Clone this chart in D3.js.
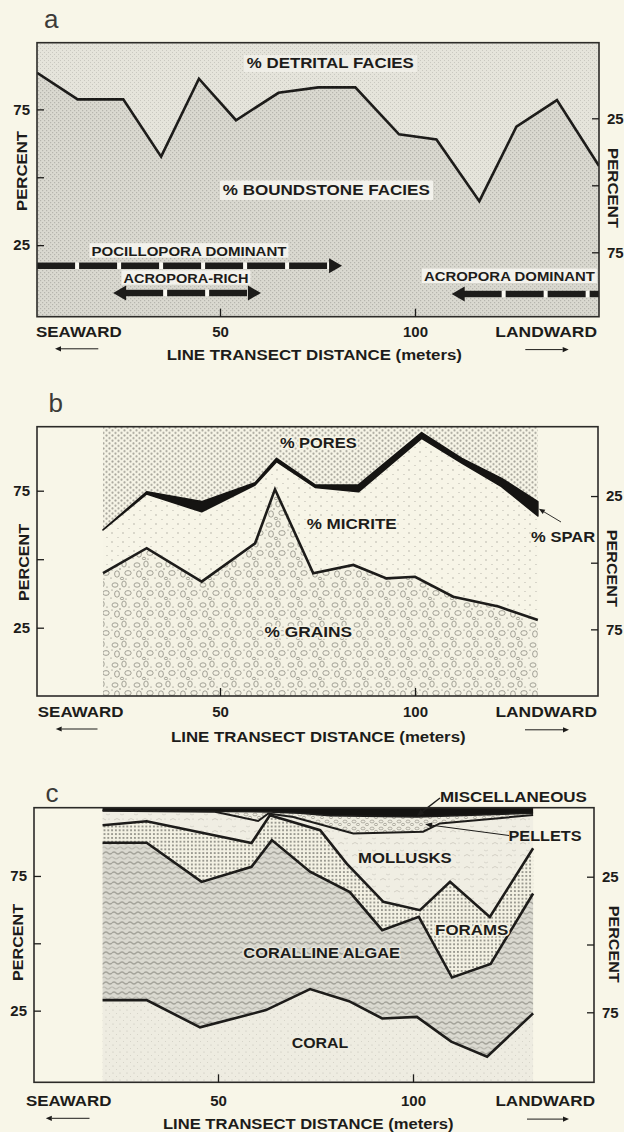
<!DOCTYPE html>
<html><head><meta charset="utf-8">
<script src="https://cdn.jsdelivr.net/npm/d3@7/dist/d3.min.js"></script>
<style>
html,body{margin:0;padding:0;background:#f8f6e8;}
svg{display:block}
text{font-family:"Liberation Sans",Arial,sans-serif;}
</style></head>
<body>
<svg id="fig" width="624" height="1132"></svg>
<script>
// ================= DATA =================
const percentTicks = [25, 50, 75];
const leftTickLabels = ["25", "", "75"];
const rightTickLabels = ["25", "", "75"];
const distanceTicks = [50, 100];

// panel a : % boundstone facies (remainder = % detrital facies)
const aDistance   = [3.1, 13.5, 25.2, 34.9, 44.6, 54.1, 65.0, 75.2, 84.7, 95.9, 105.5, 116.5, 126.0, 136.4, 147.2];
const aBoundstone = [88.5, 78.7, 78.7, 57.6, 86.3, 71.0, 81.1, 83.1, 83.1, 65.8, 63.9, 41.2, 68.6, 78.4, 54.1];
const aZoneNames = ["POCILLOPORA  DOMINANT", "ACROPORA-RICH", "ACROPORA DOMINANT"];
const aZoneFrom  = [3.1, 22.6, 109.4];
const aZoneTo    = [81.3, 60.5, 147.2];
const aZoneHeads = ["end", "both", "start"];

// panel b : cumulative percent boundaries
const bBandDistance  = [20, 31.2, 45.3, 59.0, 64.5, 74.4, 85.5, 101.7, 112.0, 122.2, 131.5];
const bSparTop       = [60.7, 74.6, 71.0, 77.9, 86.8, 77.1, 77.1, 96.2, 86.8, 79.5, 71.0];
const bMicriteTop    = [60.7, 73.8, 67.3, 77.1, 85.6, 76.2, 74.6, 94.1, 85.1, 76.5, 65.8];
const bGrainDistance = [20, 31.2, 45.3, 59.0, 64.1, 73.9, 84.2, 92.7, 100.0, 109.8, 121.4, 131.5];
const bGrainsTop     = [44.9, 54.0, 41.8, 55.8, 75.5, 44.9, 47.9, 43.0, 43.6, 36.3, 32.7, 27.8];

// panel c : cumulative percent boundaries
const cCoralDistance   = [20.4, 31.7, 45.4, 62.3, 73.6, 83.6, 92.1, 101.0, 109.8, 119.0, 130.8];
const cCoralTop        = [28.9, 28.9, 18.8, 25.2, 33.0, 28.5, 22.1, 22.7, 13.5, 7.9, 24.0];
const cAlgaeDistance   = [20.4, 31.7, 45.8, 58.6, 63.8, 73.6, 83.8, 92.1, 101.5, 110.0, 119.9, 130.8];
const cAlgaeTop        = [87.3, 87.3, 72.8, 78.4, 88.3, 76.6, 69.0, 54.9, 59.8, 37.3, 42.3, 68.5];
const cForamDistance   = [20.4, 31.7, 58.6, 63.3, 76.2, 83.0, 92.4, 101.8, 109.5, 119.7, 130.8];
const cForamsTop       = [93.8, 95.3, 87.2, 97.5, 92.0, 79.6, 65.4, 62.3, 72.8, 59.8, 85.3];
const cMolluskDistance = [20.4, 49.2, 60.3, 62.9, 69.3, 84.7, 102.6, 106.9, 130.8];
const cMollusksTop     = [99.2, 98.8, 95.4, 98.2, 96.9, 90.8, 91.4, 94.5, 97.6];
const cPelletDistance  = [20.4, 62.8, 71.0, 78.7, 101.0, 130.8];
const cPelletsTop      = [99.3, 98.8, 98.3, 97.4, 96.9, 98.3];

// ================= LAYOUT =================
const INK = "#1d1c1a";
const layout = {
  a: {left:37, right:599, top:42.7, bottom:316.7, xr:[25,415], yr:[313,41.5], yRr:[51.3,319.3],
      padX:10, labelY:332, arrowY:348.8, titleY:355, seaward:[36,121.7], landward:[495.3,597],
      lArrow:[55,98.3], rArrow:[525.3,568.7], title:[166.7,462], pL:[22,171,80], pR:[613,188,80],
      letter:["a",44,28.3]},
  b: {left:37, right:598, top:426.7, bottom:696, xr:[25,415], yr:[696.2,422.2], yRr:[429.4,696],
      padX:10.4, labelY:711.7, arrowY:729, titleY:736.7, seaward:[37.8,123.4], landward:[495.4,597],
      lArrow:[55.7,97.5], rArrow:[525,569], title:[171,465.6], pL:[24,562.5,77], pR:[612.8,568.3,77],
      letter:["b",48.5,411.7]},
  c: {left:34, right:594, top:807.7, bottom:1082.3, xr:[23,413], yr:[1078,808.6], yRr:[808.9,1080.1],
      padX:13, labelY:1100.7, arrowY:1118.3, titleY:1124.3, seaward:[25.9,111.4], landward:[495.4,595],
      lArrow:[45.8,89.5], rArrow:[527,569], title:[163,453.6], pL:[17.9,942.5,77], pR:[614.8,944.2,77],
      letter:["c",45.5,801.7]}
};

const svg = d3.select("#fig");
const defs = svg.append("defs");

function makePattern(id, w, h, bg, draw){
  const p = defs.append("pattern").attr("id",id).attr("patternUnits","userSpaceOnUse")
    .attr("width",w).attr("height",h);
  p.append("rect").attr("width",w).attr("height",h).attr("fill",bg);
  draw(p);
}
const dot=(p,x,y,r,c)=>p.append("circle").attr("cx",x).attr("cy",y).attr("r",r).attr("fill",c);
const ell=(p,x,y,rx,ry,c,sw)=>p.append("ellipse").attr("cx",x).attr("cy",y).attr("rx",rx).attr("ry",ry)
  .attr("fill","none").attr("stroke",c).attr("stroke-width",sw);
const pth=(p,d,c,sw)=>p.append("path").attr("d",d).attr("fill","none").attr("stroke",c).attr("stroke-width",sw);

makePattern("aDet",4,4,"#e5e4db",p=>{p.append("rect").attr("width",1).attr("height",1).attr("fill","#c9c8c0");
  p.append("rect").attr("x",2).attr("y",2).attr("width",1).attr("height",1).attr("fill","#c9c8c0");});
makePattern("aBnd",4,4,"#dad9d0",p=>{p.append("rect").attr("width",1.2).attr("height",1.2).attr("fill","#b6b5ad");
  p.append("rect").attr("x",2).attr("y",2).attr("width",1.2).attr("height",1.2).attr("fill","#b6b5ad");});
makePattern("pores",6,5.2,"#f6f4e6",p=>{dot(p,1.5,1.3,1.05,"#a7a59b");dot(p,4.5,3.9,1.05,"#a7a59b");});
makePattern("micrite",11,9,"#f7f5e7",p=>{dot(p,2,2,0.7,"#a4a298");dot(p,8,6.5,0.6,"#b2b0a6");});
makePattern("grains",22,20,"#f4f2e4",p=>{
  ell(p,5,5,3,2.2,"#8d8b81",0.8);ell(p,14,4,2.2,3,"#8d8b81",0.8);ell(p,18,13,3.2,2.4,"#8d8b81",0.8);
  ell(p,7,14,2.4,3.2,"#8d8b81",0.8);ell(p,12,18.5,1.6,1.3,"#8d8b81",0.8);
  dot(p,10,9,0.7,"#6f6d66");dot(p,2,10,0.6,"#6f6d66");dot(p,19,7,0.6,"#6f6d66");dot(p,16,19,0.6,"#6f6d66");dot(p,1,18,0.6,"#6f6d66");});
makePattern("coral",7,7,"#eeece1",p=>{dot(p,1,2,0.6,"#c2c0b6");dot(p,4.5,5.5,0.5,"#cfcdc2");});
makePattern("algae",16,10,"#dad9d0",p=>{pth(p,"M0,3 q2,-2 4,0 t4,0 t4,0 t4,0","#a4a39a",1.4);
  pth(p,"M-2,8 q2,-2 4,0 t4,0 t4,0 t4,0 t4,0","#b9b8af",1.1);});
makePattern("forams",3.8,3.8,"#f3f1e3",p=>{dot(p,1.9,1.9,0.85,"#6f6e67");});
makePattern("mollusks",14,12,"#f0eee3",p=>{pth(p,"M2,4 q3,-3 6,0","#cac8bd",0.8);pth(p,"M8,10 q2,2 4,0","#d2d0c5",0.8);dot(p,11,3,0.5,"#bdbbb1");});
makePattern("pellets",9,7,"#efede1",p=>{ell(p,3,2.5,2,1.4,"#96948a",0.7);ell(p,7,5.5,1.6,1.2,"#96948a",0.7);});

// ================= HELPERS =================
function scales(P){
  return {x:d3.scaleLinear().domain([0,100]).range(P.xr),
          y:d3.scaleLinear().domain([0,100]).range(P.yr),
          yR:d3.scaleLinear().domain([0,100]).range(P.yRr)};
}
function clipFor(id,P){
  defs.append("clipPath").attr("id",id).append("rect")
    .attr("x",P.left).attr("y",P.top).attr("width",P.right-P.left).attr("height",P.bottom-P.top);
}
function label(g,cx,cy,str,size,width,opt={}){
  const t=g.append("text").attr("x",cx).attr("y",cy+size*0.36).attr("text-anchor","middle")
    .attr("font-size",size).attr("font-weight",opt.weight||"bold").attr("fill",opt.fill||INK).text(str);
  if(width) t.attr("textLength",width).attr("lengthAdjust","spacingAndGlyphs");
  if(opt.halo) t.attr("stroke",opt.halo).attr("stroke-width",opt.haloW||3).attr("paint-order","stroke").attr("stroke-linejoin","round");
  return t;
}
function arrow(g,x1,y1,x2,y2,w,hl,hw){
  const a=Math.atan2(y2-y1,x2-x1), c=Math.cos(a), s=Math.sin(a);
  const bx=x2-c*hl, by=y2-s*hl;
  g.append("line").attr("x1",x1).attr("y1",y1).attr("x2",bx).attr("y2",by).attr("stroke",INK).attr("stroke-width",w);
  g.append("path").attr("d",`M${x2},${y2}L${bx-s*hw},${by+c*hw}L${bx+s*hw},${by-c*hw}Z`).attr("fill",INK);
}
function pts(xs,ys,S){return xs.map((d,i)=>[S.x(d),S.y(ys[i])]);}
function bandPath(xs1,ys1,xs2,ys2,S){return d3.line()(pts(xs1,ys1,S).concat(pts(xs2,ys2,S).reverse()))+"Z";}

function drawFrameAxes(P,S){
  const g=svg.append("g");
  g.append("rect").attr("x",P.left).attr("y",P.top).attr("width",P.right-P.left).attr("height",P.bottom-P.top)
    .attr("fill","none").attr("stroke","#2c2b28").attr("stroke-width",1.6);
  const styleAxis=ax=>{ax.select(".domain").remove();
    ax.attr("font-family","Liberation Sans, Arial, sans-serif").attr("font-size",15).attr("font-weight","bold").attr("color",INK);
    ax.selectAll("line").attr("stroke-width",1.3);};
  g.append("g").attr("transform",`translate(${P.left},0)`)
    .call(d3.axisLeft(S.y).tickValues(percentTicks).tickSize(-7).tickPadding(7).tickFormat((d,i)=>leftTickLabels[i]))
    .call(styleAxis);
  g.append("g").attr("transform",`translate(${P.right},0)`)
    .call(d3.axisRight(S.yR).tickValues(percentTicks).tickSize(-7).tickPadding(8).tickFormat((d,i)=>rightTickLabels[i]))
    .call(styleAxis);
  g.append("g").attr("transform",`translate(0,${P.bottom})`)
    .call(d3.axisBottom(S.x).tickValues(distanceTicks).tickSize(-8).tickPadding(P.padX).tickFormat(d3.format("d")))
    .call(styleAxis);
  label(g,(P.seaward[0]+P.seaward[1])/2,P.labelY,"SEAWARD",15,P.seaward[1]-P.seaward[0]);
  label(g,(P.landward[0]+P.landward[1])/2,P.labelY,"LANDWARD",15,P.landward[1]-P.landward[0]);
  arrow(g,P.lArrow[1],P.arrowY,P.lArrow[0],P.arrowY,1,6,2.6);
  arrow(g,P.rArrow[0],P.arrowY+0.8,P.rArrow[1],P.arrowY+0.8,1,6,2.6);
  label(g,(P.title[0]+P.title[1])/2,P.titleY,"LINE TRANSECT DISTANCE (meters)",14,P.title[1]-P.title[0]);
  const pl=g.append("g").attr("transform",`translate(${P.pL[0]},${P.pL[1]}) rotate(-90)`);
  label(pl,0,0,"PERCENT",15,P.pL[2]);
  const pr=g.append("g").attr("transform",`translate(${P.pR[0]},${P.pR[1]}) rotate(90)`);
  label(pr,0,0,"PERCENT",15,P.pR[2]);
  svg.append("text").attr("x",P.letter[1]).attr("y",P.letter[2]).attr("font-family","Roboto, 'Open Sans', sans-serif")
    .attr("font-weight",300).attr("font-size",26).attr("fill","#3c3b38").text(P.letter[0]);
}

// ================= PANEL A =================
(function(){
  const P=layout.a, S=scales(P); clipFor("clipA",P);
  const g=svg.append("g").attr("clip-path","url(#clipA)");
  g.append("path").attr("d",d3.area().x((d,i)=>S.x(aDistance[i])).y0(P.top).y1(d=>S.y(d))(aBoundstone)).attr("fill","url(#aDet)");
  g.append("path").attr("d",d3.area().x((d,i)=>S.x(aDistance[i])).y0(P.bottom).y1(d=>S.y(d))(aBoundstone)).attr("fill","url(#aBnd)");
  g.append("path").attr("d",d3.line().x((d,i)=>S.x(aDistance[i])).y(d=>S.y(d))(aBoundstone))
    .attr("fill","none").attr("stroke",INK).attr("stroke-width",2.6).attr("stroke-linejoin","miter");
  // facies labels
  const box=(x0,y0,x1,y1,c)=>g.append("rect").attr("x",x0).attr("y",y0).attr("width",x1-x0).attr("height",y1-y0).attr("fill",c);
  box(244,55,417,72,"#efeee7"); label(g,330.3,63.3,"% DETRITAL FACIES",14,167);
  box(220,180.5,433,200,"#f3f2ec"); label(g,326.3,190,"% BOUNDSTONE FACIES",14,207);
  // zone arrows
  const rowY=[265.7,293,294], labY=[250.7,277.7,276], labX=[189,186,509.4], labW=[195,125,171];
  aZoneNames.forEach((nm,i)=>{
    const x0=S.x(aZoneFrom[i]), x1=S.x(aZoneTo[i]), yy=rowY[i], hl=13, hw=7.5;
    const s0=(aZoneHeads[i]==="start"||aZoneHeads[i]==="both")?x0+hl-1:x0;
    const s1=(aZoneHeads[i]==="end"||aZoneHeads[i]==="both")?x1-hl+1:x1;
    g.append("line").attr("x1",s0).attr("x2",s1).attr("y1",yy).attr("y2",yy).attr("stroke","#fbfaf3").attr("stroke-width",6.5);
    g.append("line").attr("x1",s0).attr("x2",s1).attr("y1",yy).attr("y2",yy).attr("stroke",INK).attr("stroke-width",6.5)
      .attr("stroke-dasharray","38 4");
    if(aZoneHeads[i]==="end"||aZoneHeads[i]==="both")
      g.append("path").attr("d",`M${x1},${yy}L${x1-hl},${yy-hw}L${x1-hl},${yy+hw}Z`).attr("fill",INK);
    if(aZoneHeads[i]==="start"||aZoneHeads[i]==="both")
      g.append("path").attr("d",`M${x0},${yy}L${x0+hl},${yy-hw}L${x0+hl},${yy+hw}Z`).attr("fill",INK);
    box(labX[i]-labW[i]/2-2,labY[i]-7.5,labX[i]+labW[i]/2+2,labY[i]+7,"#f3f2ec");
    label(g,labX[i],labY[i],nm.replace("  "," "),13.5,labW[i]);
  });
  drawFrameAxes(P,S);
})();

// ================= PANEL B =================
(function(){
  const P=layout.b, S=scales(P); clipFor("clipB",P);
  const g=svg.append("g").attr("clip-path","url(#clipB)");
  const topPct=S.y.invert(P.top), botPct=S.y.invert(P.bottom);
  const flat=(xs,v)=>xs.map(()=>v);
  g.append("path").attr("d",bandPath(bBandDistance,bSparTop,bBandDistance,flat(bBandDistance,topPct),S)).attr("fill","url(#pores)");
  g.append("path").attr("d",bandPath(bGrainDistance,bGrainsTop,bBandDistance,bMicriteTop,S)).attr("fill","url(#micrite)");
  g.append("path").attr("d",bandPath(bGrainDistance,flat(bGrainDistance,botPct),bGrainDistance,bGrainsTop,S)).attr("fill","url(#grains)");
  g.append("path").attr("d",bandPath(bBandDistance,bMicriteTop,bBandDistance,bSparTop,S)).attr("fill","#151412")
    .attr("stroke","#151412").attr("stroke-width",1.6).attr("stroke-linejoin","round");
  g.append("path").attr("d",d3.line()(pts(bGrainDistance,bGrainsTop,S))).attr("fill","none").attr("stroke",INK).attr("stroke-width",2.6);
  label(svg,318.3,443.3,"% PORES",14,76.7,{halo:"#f6f4e6"});
  label(svg,351.7,524.3,"% MICRITE",14,90,{halo:"#f7f5e7"});
  label(svg,308.4,631.7,"% GRAINS",14,87.6,{halo:"#f4f2e4"});
  label(svg,563.1,536.7,"% SPAR",14,64);
  const n=bBandDistance.length-1;
  const tx=S.x(bBandDistance[n])+1, ty=S.y((bSparTop[n]+bMicriteTop[n])/2);
  arrow(svg,561,522,tx,ty,0.9,6,2.5);
  drawFrameAxes(P,S);
})();

// ================= PANEL C =================
(function(){
  const P=layout.c, S=scales(P); clipFor("clipC",P);
  const g=svg.append("g").attr("clip-path","url(#clipC)");
  const topPct=S.y.invert(P.top), botPct=S.y.invert(P.bottom);
  const flat=(xs,v)=>xs.map(()=>v);
  g.append("path").attr("d",bandPath(cCoralDistance,flat(cCoralDistance,botPct),cCoralDistance,cCoralTop,S)).attr("fill","url(#coral)");
  g.append("path").attr("d",bandPath(cCoralDistance,cCoralTop,cAlgaeDistance,cAlgaeTop,S)).attr("fill","url(#algae)");
  g.append("path").attr("d",bandPath(cAlgaeDistance,cAlgaeTop,cForamDistance,cForamsTop,S)).attr("fill","url(#forams)");
  g.append("path").attr("d",bandPath(cForamDistance,cForamsTop,cMolluskDistance,cMollusksTop,S)).attr("fill","url(#mollusks)");
  g.append("path").attr("d",bandPath(cMolluskDistance,cMollusksTop,cPelletDistance,cPelletsTop,S)).attr("fill","url(#pellets)");
  g.append("path").attr("d",bandPath(cPelletDistance,cPelletsTop,cPelletDistance,flat(cPelletDistance,topPct+1),S)).attr("fill","#141311");
  const ln=(xs,ys,w)=>g.append("path").attr("d",d3.line()(pts(xs,ys,S))).attr("fill","none").attr("stroke",INK)
    .attr("stroke-width",w).attr("stroke-linejoin","miter");
  ln(cCoralDistance,cCoralTop,2.6); ln(cAlgaeDistance,cAlgaeTop,2.6); ln(cForamDistance,cForamsTop,2.6);
  ln(cMolluskDistance,cMollusksTop,2.0); ln(cPelletDistance,cPelletsTop,1.6);
  label(svg,513.4,796.7,"MISCELLANEOUS",14,147);
  label(svg,545,836.3,"PELLETS",14,73);
  label(svg,404.9,858,"MOLLUSKS",14,93.7,{halo:"#f0eee3"});
  label(svg,471.7,930.4,"FORAMS",14,73.3,{halo:"#f3f1e3"});
  label(svg,321.7,952.7,"CORALLINE ALGAE",14,156.7,{halo:"#e4e3da"});
  label(svg,320,1042.7,"CORAL",14,56.6,{halo:"#eeece1"});
  // annotation arrows pointing into the thin layers
  const mx=101, mIdx=cPelletDistance.indexOf(101.0);
  arrow(svg,440,798,S.x(mx),S.y(cPelletsTop[mIdx])-1,1.4,7,3);
  const px=102.6, pIdx=cMolluskDistance.indexOf(102.6);
  arrow(svg,509,835.5,S.x(px)+2,S.y((cMollusksTop[pIdx]+96.9)/2),1,7,2.8);
  drawFrameAxes(P,S);
})();
</script>
</body></html>
